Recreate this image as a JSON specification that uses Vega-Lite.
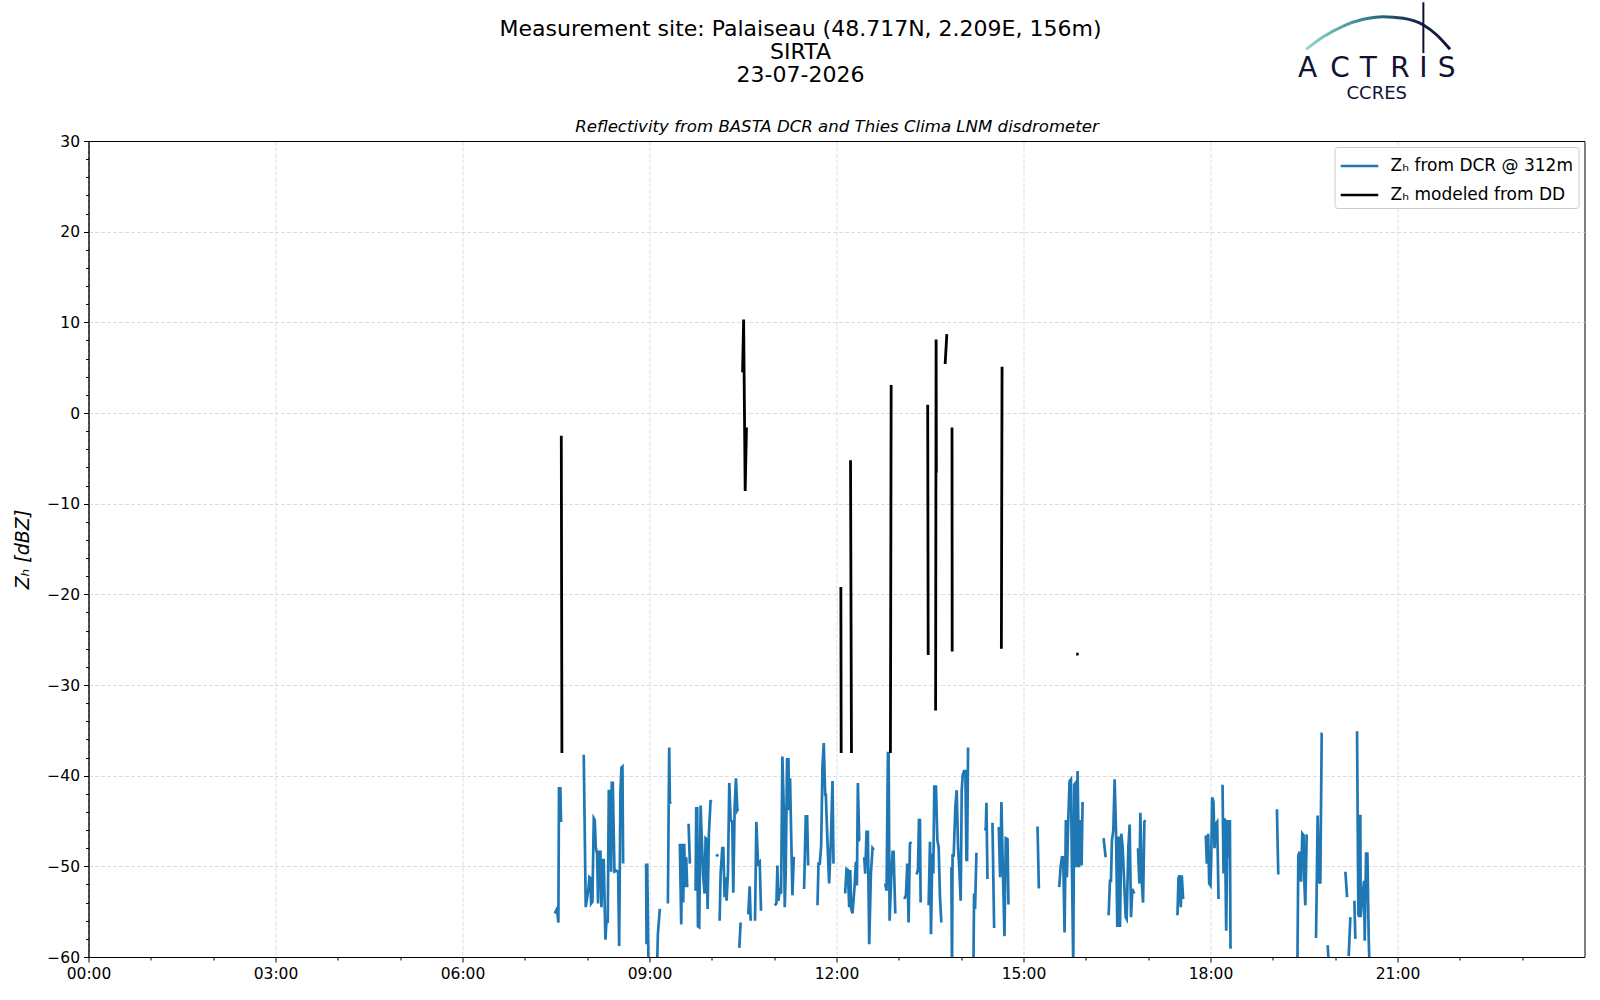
{
  "$schema": "https://vega.github.io/schema/vega-lite/v6.json",
  "width": 1496,
  "height": 816,
  "autosize": {"type": "none"},
  "padding": {"left": 88.5, "top": 141, "right": 15.5, "bottom": 43},
  "background": "white",
  "title": {
    "text": ["Measurement site: Palaiseau (48.717N, 2.209E, 156m)", "SIRTA", "23-07-2026"],
    "anchor": "middle",
    "frame": "group",
    "dx": -36,
    "offset": -88.5,
    "font": "DejaVu Sans",
    "fontSize": 22,
    "fontWeight": "normal",
    "lineHeight": 23,
    "color": "black"
  },
  "datasets": {
    "dcr": [
      {"t": 7.479, "z": -55.2}, {"t": 7.516, "z": -54.7}, {"t": 7.538, "z": -56.2}, {"t": 7.548, "z": -41.4},
      {"t": 7.57, "z": -41.4}, {"t": 7.581, "z": -45.1}, {"t": 7.59, "z": null},
      {"t": 7.945, "z": -37.7}, {"t": 7.977, "z": -54.5}, {"t": 8.02, "z": -52.5}, {"t": 8.036, "z": -51.2},
      {"t": 8.052, "z": -51.3}, {"t": 8.063, "z": -54.1}, {"t": 8.084, "z": -53.9}, {"t": 8.106, "z": -44.7},
      {"t": 8.122, "z": -44.9}, {"t": 8.138, "z": -47.9}, {"t": 8.159, "z": -48.6}, {"t": 8.175, "z": -54.1},
      {"t": 8.191, "z": -48.4}, {"t": 8.213, "z": -48.4}, {"t": 8.229, "z": -54.5}, {"t": 8.25, "z": -49.3},
      {"t": 8.266, "z": -49.3}, {"t": 8.293, "z": -58.1}, {"t": 8.309, "z": -56.1}, {"t": 8.33, "z": -56.1},
      {"t": 8.347, "z": -41.7}, {"t": 8.373, "z": -41.7}, {"t": 8.384, "z": -50.6}, {"t": 8.395, "z": -40.8},
      {"t": 8.411, "z": -40.8}, {"t": 8.438, "z": -50.6}, {"t": 8.47, "z": -50.5}, {"t": 8.497, "z": -50.6},
      {"t": 8.513, "z": -58.8}, {"t": 8.534, "z": -41.7}, {"t": 8.55, "z": -39.1}, {"t": 8.566, "z": -39.0},
      {"t": 8.577, "z": -49.7}, {"t": 8.6, "z": null},
      {"t": 8.946, "z": -49.7}, {"t": 8.952, "z": -58.6}, {"t": 8.963, "z": -49.7}, {"t": 8.984, "z": -61.2},
      {"t": 9.0, "z": null},
      {"t": 9.123, "z": -60.8}, {"t": 9.134, "z": -57.5}, {"t": 9.166, "z": -54.7}, {"t": 9.18, "z": null},
      {"t": 9.295, "z": -54.1}, {"t": 9.316, "z": -36.9}, {"t": 9.327, "z": -43.0}, {"t": 9.348, "z": -42.9},
      {"t": 9.36, "z": null},
      {"t": 9.487, "z": -47.5}, {"t": 9.509, "z": -56.4}, {"t": 9.525, "z": -47.5}, {"t": 9.541, "z": -54.0},
      {"t": 9.557, "z": -47.5}, {"t": 9.573, "z": -52.3}, {"t": 9.589, "z": -49.0}, {"t": 9.605, "z": -52.3},
      {"t": 9.615, "z": null},
      {"t": 9.627, "z": -45.3}, {"t": 9.648, "z": -49.7}, {"t": 9.66, "z": null},
      {"t": 9.739, "z": -52.7}, {"t": 9.75, "z": -43.6}, {"t": 9.766, "z": -43.6}, {"t": 9.777, "z": -56.6},
      {"t": 9.798, "z": -56.7}, {"t": 9.82, "z": -43.3}, {"t": 9.83, "z": -45.3}, {"t": 9.862, "z": -51.2},
      {"t": 9.884, "z": -53.0}, {"t": 9.9, "z": -46.9}, {"t": 9.916, "z": -47.0}, {"t": 9.932, "z": -54.7},
      {"t": 9.953, "z": -46.4}, {"t": 9.98, "z": -42.7}, {"t": 9.991, "z": -42.9}, {"t": 10.0, "z": null},
      {"t": 10.071, "z": -48.7}, {"t": 10.103, "z": -48.9}, {"t": 10.11, "z": null},
      {"t": 10.125, "z": -56.0}, {"t": 10.141, "z": -50.8}, {"t": 10.168, "z": -48.0}, {"t": 10.184, "z": -48.0},
      {"t": 10.205, "z": -53.4}, {"t": 10.221, "z": -51.2}, {"t": 10.237, "z": -53.8}, {"t": 10.259, "z": -50.6},
      {"t": 10.28, "z": -40.8}, {"t": 10.302, "z": -44.9}, {"t": 10.328, "z": -45.1}, {"t": 10.344, "z": -52.9},
      {"t": 10.366, "z": -43.4}, {"t": 10.387, "z": -40.3}, {"t": 10.409, "z": -43.8}, {"t": 10.425, "z": -43.6},
      {"t": 10.433, "z": null},
      {"t": 10.441, "z": -59.0}, {"t": 10.462, "z": -56.2}, {"t": 10.47, "z": null},
      {"t": 10.585, "z": -55.3}, {"t": 10.607, "z": -52.2}, {"t": 10.623, "z": -56.0}, {"t": 10.65, "z": null},
      {"t": 10.693, "z": -56.0}, {"t": 10.714, "z": -45.1}, {"t": 10.741, "z": -49.7}, {"t": 10.768, "z": -49.5},
      {"t": 10.789, "z": -54.9}, {"t": 10.8, "z": null},
      {"t": 11.009, "z": -54.3}, {"t": 11.036, "z": -54.1}, {"t": 11.052, "z": -49.9}, {"t": 11.068, "z": -53.8},
      {"t": 11.089, "z": -52.7}, {"t": 11.111, "z": -53.0}, {"t": 11.132, "z": -37.9}, {"t": 11.154, "z": -43.6},
      {"t": 11.17, "z": -54.5}, {"t": 11.186, "z": -50.4}, {"t": 11.207, "z": -38.2}, {"t": 11.229, "z": -38.2},
      {"t": 11.239, "z": -43.8}, {"t": 11.255, "z": -40.3}, {"t": 11.272, "z": -46.2}, {"t": 11.293, "z": -53.2},
      {"t": 11.314, "z": -49.1}, {"t": 11.336, "z": -49.1}, {"t": 11.35, "z": null},
      {"t": 11.48, "z": -52.5}, {"t": 11.507, "z": -44.5}, {"t": 11.529, "z": -44.5}, {"t": 11.545, "z": -49.9},
      {"t": 11.56, "z": null},
      {"t": 11.695, "z": -54.3}, {"t": 11.711, "z": -49.7}, {"t": 11.732, "z": -49.7}, {"t": 11.754, "z": -47.7},
      {"t": 11.775, "z": -39.0}, {"t": 11.796, "z": -36.4}, {"t": 11.818, "z": -42.1}, {"t": 11.829, "z": -42.1},
      {"t": 11.855, "z": -47.3}, {"t": 11.882, "z": -51.9}, {"t": 11.909, "z": -47.3}, {"t": 11.936, "z": -40.6},
      {"t": 11.952, "z": -49.7}, {"t": 11.96, "z": null},
      {"t": 12.139, "z": -53.0}, {"t": 12.161, "z": -50.3}, {"t": 12.182, "z": -50.4}, {"t": 12.204, "z": -54.5},
      {"t": 12.22, "z": -50.4}, {"t": 12.236, "z": -54.7}, {"t": 12.257, "z": -55.2}, {"t": 12.289, "z": -52.3},
      {"t": 12.311, "z": -49.5}, {"t": 12.327, "z": -52.1}, {"t": 12.343, "z": -40.8}, {"t": 12.364, "z": -47.1},
      {"t": 12.38, "z": -47.1}, {"t": 12.39, "z": null},
      {"t": 12.445, "z": -49.0}, {"t": 12.461, "z": -50.8}, {"t": 12.482, "z": -46.2}, {"t": 12.503, "z": -46.2},
      {"t": 12.525, "z": -58.6}, {"t": 12.552, "z": -50.8}, {"t": 12.578, "z": -48.0}, {"t": 12.6, "z": -48.2},
      {"t": 12.61, "z": null},
      {"t": 12.782, "z": -51.9}, {"t": 12.803, "z": -52.7}, {"t": 12.825, "z": -37.5}, {"t": 12.836, "z": -37.5},
      {"t": 12.852, "z": -56.0}, {"t": 12.878, "z": -51.2}, {"t": 12.9, "z": -48.4}, {"t": 12.916, "z": -48.4},
      {"t": 12.943, "z": -55.2}, {"t": 12.95, "z": null},
      {"t": 13.087, "z": -53.6}, {"t": 13.114, "z": -53.2}, {"t": 13.136, "z": -49.7}, {"t": 13.157, "z": -56.2},
      {"t": 13.178, "z": -47.5}, {"t": 13.2, "z": -47.3}, {"t": 13.21, "z": null},
      {"t": 13.285, "z": -50.9}, {"t": 13.307, "z": -50.4}, {"t": 13.323, "z": -44.9}, {"t": 13.339, "z": -44.9},
      {"t": 13.35, "z": -54.0}, {"t": 13.36, "z": null},
      {"t": 13.478, "z": -54.3}, {"t": 13.5, "z": -47.3}, {"t": 13.516, "z": -57.5}, {"t": 13.537, "z": -48.6},
      {"t": 13.553, "z": -50.8}, {"t": 13.569, "z": -41.2}, {"t": 13.596, "z": -41.2}, {"t": 13.618, "z": -47.1},
      {"t": 13.639, "z": -47.9}, {"t": 13.66, "z": -53.4}, {"t": 13.682, "z": -56.2}, {"t": 13.69, "z": null},
      {"t": 13.843, "z": -50.1}, {"t": 13.853, "z": -62}, {"t": 13.862, "z": -48.8}, {"t": 13.88, "z": -48.8},
      {"t": 13.907, "z": -43.4}, {"t": 13.928, "z": -41.6}, {"t": 13.95, "z": -47.9}, {"t": 13.971, "z": -50.4},
      {"t": 13.992, "z": -53.8}, {"t": 14.009, "z": -41.6}, {"t": 14.025, "z": -39.9}, {"t": 14.046, "z": -39.5},
      {"t": 14.067, "z": -39.5}, {"t": 14.085, "z": -49.3}, {"t": 14.095, "z": -49.3}, {"t": 14.111, "z": -36.9},
      {"t": 14.12, "z": null},
      {"t": 14.197, "z": -61}, {"t": 14.207, "z": -53.0}, {"t": 14.223, "z": -54.7}, {"t": 14.245, "z": -48.5},
      {"t": 14.26, "z": null},
      {"t": 14.368, "z": -45.9}, {"t": 14.395, "z": -45.9}, {"t": 14.405, "z": -43.0}, {"t": 14.422, "z": -51.4},
      {"t": 14.43, "z": null},
      {"t": 14.502, "z": -45.2}, {"t": 14.529, "z": -56.8}, {"t": 14.54, "z": null},
      {"t": 14.582, "z": -45.8}, {"t": 14.604, "z": -45.8}, {"t": 14.625, "z": -51.2}, {"t": 14.646, "z": -42.9},
      {"t": 14.668, "z": -50.1}, {"t": 14.695, "z": -57.7}, {"t": 14.716, "z": -46.9}, {"t": 14.743, "z": -47.0},
      {"t": 14.759, "z": -54.2}, {"t": 14.77, "z": null},
      {"t": 15.225, "z": -45.6}, {"t": 15.246, "z": -52.3}, {"t": 15.268, "z": -52.3}, {"t": 15.28, "z": null},
      {"t": 15.573, "z": -52.3}, {"t": 15.595, "z": -50.1}, {"t": 15.616, "z": -49.0}, {"t": 15.637, "z": -49.0},
      {"t": 15.659, "z": -57.3}, {"t": 15.68, "z": -44.9}, {"t": 15.696, "z": -51.2}, {"t": 15.718, "z": -44.9},
      {"t": 15.739, "z": -40.6}, {"t": 15.761, "z": -40.4}, {"t": 15.777, "z": -50.1}, {"t": 15.798, "z": -61},
      {"t": 15.814, "z": -41.0}, {"t": 15.836, "z": -40.8}, {"t": 15.846, "z": -50.1}, {"t": 15.868, "z": -39.5},
      {"t": 15.889, "z": -50.1}, {"t": 15.911, "z": -44.9}, {"t": 15.932, "z": -49.9}, {"t": 15.948, "z": -42.9},
      {"t": 15.96, "z": null},
      {"t": 16.285, "z": -46.9}, {"t": 16.318, "z": -49.0}, {"t": 16.33, "z": null},
      {"t": 16.366, "z": -55.4}, {"t": 16.387, "z": -51.6}, {"t": 16.403, "z": -51.6}, {"t": 16.419, "z": -47.1},
      {"t": 16.441, "z": -46.0}, {"t": 16.462, "z": -40.4}, {"t": 16.484, "z": -46.0}, {"t": 16.505, "z": -56.7},
      {"t": 16.527, "z": -46.7}, {"t": 16.548, "z": -56.7}, {"t": 16.569, "z": -46.4}, {"t": 16.591, "z": -47.9},
      {"t": 16.612, "z": -51.2}, {"t": 16.639, "z": -55.6}, {"t": 16.655, "z": -55.8}, {"t": 16.682, "z": -47.9},
      {"t": 16.703, "z": -45.4}, {"t": 16.725, "z": -55.6}, {"t": 16.746, "z": -52.5}, {"t": 16.778, "z": -53.0},
      {"t": 16.8, "z": null},
      {"t": 16.837, "z": -48.0}, {"t": 16.859, "z": -51.9}, {"t": 16.875, "z": -44.1}, {"t": 16.896, "z": -51.6},
      {"t": 16.918, "z": -54.0}, {"t": 16.939, "z": -45.1}, {"t": 16.955, "z": -44.9}, {"t": 16.97, "z": null},
      {"t": 17.47, "z": -55.4}, {"t": 17.486, "z": -51.3}, {"t": 17.507, "z": -51.0}, {"t": 17.523, "z": -54.5},
      {"t": 17.539, "z": -51.0}, {"t": 17.561, "z": -53.6}, {"t": 17.57, "z": null},
      {"t": 17.925, "z": -46.6}, {"t": 17.941, "z": -49.7}, {"t": 17.963, "z": -46.4}, {"t": 17.979, "z": -51.9},
      {"t": 18.0, "z": -52.1}, {"t": 18.011, "z": -49.3}, {"t": 18.027, "z": -42.4}, {"t": 18.048, "z": -42.9},
      {"t": 18.064, "z": -48.0}, {"t": 18.086, "z": -45.3}, {"t": 18.107, "z": -45.1}, {"t": 18.129, "z": -53.6},
      {"t": 18.14, "z": null},
      {"t": 18.193, "z": -41.0}, {"t": 18.209, "z": -50.8}, {"t": 18.23, "z": -44.7}, {"t": 18.252, "z": -57.1},
      {"t": 18.273, "z": -44.9}, {"t": 18.289, "z": -49.0}, {"t": 18.311, "z": -44.9}, {"t": 18.321, "z": -59.1},
      {"t": 18.33, "z": null},
      {"t": 19.066, "z": -43.7}, {"t": 19.087, "z": -50.9}, {"t": 19.1, "z": null},
      {"t": 19.393, "z": -62}, {"t": 19.409, "z": -48.8}, {"t": 19.43, "z": -48.4}, {"t": 19.452, "z": -51.7},
      {"t": 19.473, "z": -46.4}, {"t": 19.494, "z": -46.6}, {"t": 19.505, "z": -51.7}, {"t": 19.521, "z": -54.3},
      {"t": 19.543, "z": -46.6}, {"t": 19.559, "z": -46.6}, {"t": 19.57, "z": null},
      {"t": 19.693, "z": -57.9}, {"t": 19.719, "z": -44.4}, {"t": 19.741, "z": -51.6}, {"t": 19.762, "z": -51.9},
      {"t": 19.784, "z": -35.4}, {"t": 19.8, "z": -35.4}, {"t": 19.81, "z": null},
      {"t": 19.88, "z": -58.7}, {"t": 19.907, "z": -62}, {"t": 19.92, "z": null},
      {"t": 20.164, "z": -50.6}, {"t": 20.191, "z": -53.4}, {"t": 20.2, "z": null},
      {"t": 20.217, "z": -59.9}, {"t": 20.244, "z": -55.6}, {"t": 20.25, "z": null},
      {"t": 20.308, "z": -53.8}, {"t": 20.324, "z": -58.0}, {"t": 20.33, "z": null},
      {"t": 20.351, "z": -35.1}, {"t": 20.372, "z": -55.3}, {"t": 20.388, "z": -55.6}, {"t": 20.404, "z": -44.3},
      {"t": 20.409, "z": -55.6}, {"t": 20.463, "z": -51.6}, {"t": 20.474, "z": -58.2}, {"t": 20.496, "z": -48.6},
      {"t": 20.517, "z": -48.6}, {"t": 20.539, "z": -58.2}, {"t": 20.555, "z": -62}
    ],
    "dd": [
      {"t": 7.585, "z": -2.5}, {"t": 7.595, "z": -37.5}, {"t": 7.6, "z": null},
      {"t": 10.493, "z": 4.5}, {"t": 10.51, "z": 10.3}, {"t": 10.535, "z": -8.6}, {"t": 10.556, "z": -1.6},
      {"t": 10.57, "z": null},
      {"t": 12.07, "z": -19.2}, {"t": 12.075, "z": -37.5}, {"t": 12.08, "z": null},
      {"t": 12.225, "z": -5.2}, {"t": 12.24, "z": -37.5}, {"t": 12.25, "z": null},
      {"t": 12.865, "z": -37.5}, {"t": 12.877, "z": 3.1}, {"t": 12.89, "z": null},
      {"t": 13.463, "z": 0.9}, {"t": 13.471, "z": -26.7}, {"t": 13.48, "z": null},
      {"t": 13.59, "z": -32.8}, {"t": 13.598, "z": 8.1}, {"t": 13.602, "z": -6.6}, {"t": 13.61, "z": null},
      {"t": 13.743, "z": 5.4}, {"t": 13.77, "z": 8.7}, {"t": 13.78, "z": null},
      {"t": 13.853, "z": -1.6}, {"t": 13.856, "z": -26.3}, {"t": 13.86, "z": null},
      {"t": 14.645, "z": -26.0}, {"t": 14.656, "z": 5.1}, {"t": 14.66, "z": null},
      {"t": 15.845, "z": -26.6}, {"t": 15.885, "z": -26.6}
    ],
    "arc": [
      {"t": 19.533, "v": 40.11}, {"t": 19.81, "v": 41.5}, {"t": 20.13, "v": 42.68}, {"t": 20.45, "v": 43.42},
      {"t": 20.77, "v": 43.71}, {"t": 21.094, "v": 43.53}, {"t": 21.415, "v": 42.79}, {"t": 21.63, "v": 41.69},
      {"t": 21.843, "v": 40.11}
    ],
    "mast": [
      {"t": 21.415, "v": 45.3}, {"t": 21.415, "v": 39.7}
    ],
    "letters": [
      {"c": "A", "t": 19.556, "v": 37.06}, {"c": "C", "t": 20.08, "v": 37.06}, {"c": "T", "t": 20.533, "v": 37.06},
      {"c": "R", "t": 21.04, "v": 37.06}, {"c": "I", "t": 21.414, "v": 37.06}, {"c": "S", "t": 21.79, "v": 37.06}
    ],
    "sub": [
      {"c": "CCRES", "t": 20.667, "v": 34.63}
    ]
  },
  "layer": [
    {
      "data": {"name": "dcr"},
      "mark": {"type": "line", "strokeWidth": 2.7, "clip": true, "invalid": "break-paths-show-domains"},
      "encoding": {
        "x": {
          "field": "t",
          "type": "quantitative",
          "scale": {"domain": [0, 24], "nice": false, "zero": false},
          "axis": {
            "orient": "bottom",
            "title": null,
            "values": [0, 3, 6, 9, 12, 15, 18, 21],
            "labelExpr": "(datum.value < 10 ? '0' : '') + datum.value + ':00'",
            "labelFlush": false,
            "labelFontSize": 15.5,
            "labelPadding": 4,
            "tickSize": 5,
            "grid": true
          }
        },
        "y": {
          "field": "z",
          "type": "quantitative",
          "scale": {"domain": [-60, 30], "nice": false, "zero": false},
          "axis": {
            "orient": "left",
            "title": "Zₕ [dBZ]",
            "titleFontStyle": "italic",
            "titleFontSize": 19,
            "titleFontWeight": "normal",
            "titleX": -66,
            "titleY": 408,
            "titleAngle": -90,
            "titleAlign": "center",
            "titleBaseline": "middle",
            "values": [-60, -50, -40, -30, -20, -10, 0, 10, 20, 30],
            "labelExpr": "replace(format(datum.value, 'd'), '-', '\u2212')",
            "labelFlush": false,
            "labelFontSize": 15.5,
            "labelPadding": 4,
            "tickSize": 5,
            "grid": true
          }
        },
        "color": {
          "datum": "DCR",
          "type": "nominal",
          "scale": {"domain": ["DCR", "DD"], "range": ["#1f77b4", "#000000"]},
          "legend": {
            "title": null,
            "orient": "top-right",
            "offset": 6,
            "labelExpr": "datum.label == 'DCR' ? 'Zₕ from DCR @ 312m' : 'Zₕ modeled from DD'",
            "labelLimit": 400,
            "symbolType": "M-1.5,0H1.5",
            "symbolSize": 625,
            "symbolStrokeWidth": 2.5,
            "symbolOffset": 6,
            "labelOffset": 17,
            "labelFontSize": 17,
            "labelColor": "black",
            "padding": 5,
            "rowPadding": 7,
            "strokeColor": "#cccccc",
            "fillColor": "rgba(255,255,255,0.8)",
            "cornerRadius": 3
          }
        }
      }
    },
    {
      "data": {"name": "dd"},
      "mark": {"type": "line", "strokeWidth": 2.8, "clip": true, "invalid": "break-paths-show-domains"},
      "encoding": {
        "x": {
          "field": "t",
          "type": "quantitative",
          "scale": {"domain": [0, 24], "nice": false, "zero": false},
          "axis": {
            "orient": "bottom",
            "title": null,
            "values": [1, 2, 4, 5, 7, 8, 10, 11, 13, 14, 16, 17, 19, 20, 22, 23],
            "labels": false,
            "domain": false,
            "grid": false,
            "tickSize": 3
          }
        },
        "y": {
          "field": "z",
          "type": "quantitative",
          "scale": {"domain": [-60, 30], "nice": false, "zero": false},
          "axis": {
            "orient": "left",
            "title": null,
            "values": [-58, -56, -54, -52, -48, -46, -44, -42, -38, -36, -34, -32, -28, -26, -24, -22, -18, -16, -14, -12, -8, -6, -4, -2, 2, 4, 6, 8, 12, 14, 16, 18, 22, 24, 26, 28],
            "labels": false,
            "domain": false,
            "grid": false,
            "tickSize": 3
          }
        },
        "color": {"datum": "DD", "type": "nominal"}
      }
    },
    {
      "data": {"name": "arc"},
      "mark": {
        "type": "line",
        "clip": false,
        "strokeWidth": 3,
        "interpolate": "monotone",
        "stroke": {
          "gradient": "linear",
          "stops": [
            {"offset": 0, "color": "#9ad6d0"},
            {"offset": 0.45, "color": "#2b7a8c"},
            {"offset": 0.75, "color": "#16294f"},
            {"offset": 1, "color": "#0d1233"}
          ]
        }
      },
      "encoding": {
        "x": {
          "field": "t",
          "type": "quantitative",
          "scale": {"domain": [0, 24], "nice": false, "zero": false},
          "axis": {
            "orient": "top",
            "title": "Reflectivity from BASTA DCR and Thies Clima LNM disdrometer",
            "titleFontStyle": "italic",
            "titleFontSize": 16.6,
            "titleFontWeight": "normal",
            "titlePadding": 7,
            "labels": false,
            "ticks": false,
            "domain": true,
            "domainColor": "black",
            "grid": false,
            "zindex": 1
          }
        },
        "y": {
          "field": "v",
          "type": "quantitative",
          "scale": {"domain": [-60, 30], "nice": false, "zero": false},
          "axis": null
        }
      }
    },
    {
      "data": {"name": "mast"},
      "mark": {"type": "line", "clip": false, "strokeWidth": 2, "color": "#0d1233"},
      "encoding": {
        "x": {"field": "t", "type": "quantitative", "scale": {"domain": [0, 24], "nice": false, "zero": false}, "axis": null},
        "y": {"field": "v", "type": "quantitative", "scale": {"domain": [-60, 30], "nice": false, "zero": false}, "axis": null}
      }
    },
    {
      "data": {"name": "letters"},
      "mark": {"type": "text", "clip": false, "fontSize": 28, "align": "center", "baseline": "alphabetic", "color": "#0f1236", "font": "DejaVu Sans"},
      "encoding": {
        "x": {"field": "t", "type": "quantitative", "scale": {"domain": [0, 24], "nice": false, "zero": false}, "axis": null},
        "y": {"field": "v", "type": "quantitative", "scale": {"domain": [-60, 30], "nice": false, "zero": false}, "axis": null},
        "text": {"field": "c"}
      }
    },
    {
      "data": {"name": "sub"},
      "mark": {"type": "text", "clip": false, "fontSize": 18, "align": "center", "baseline": "alphabetic", "color": "#0f1236", "font": "DejaVu Sans"},
      "encoding": {
        "x": {"field": "t", "type": "quantitative", "scale": {"domain": [0, 24], "nice": false, "zero": false}, "axis": null},
        "y": {"field": "v", "type": "quantitative", "scale": {"domain": [-60, 30], "nice": false, "zero": false}, "axis": null},
        "text": {"field": "c"}
      }
    }
  ],
  "resolve": {"axis": {"x": "independent", "y": "independent"}},
  "config": {
    "font": "DejaVu Sans",
    "view": {"stroke": "black", "strokeWidth": 1},
    "axis": {
      "labelFont": "DejaVu Sans",
      "titleFont": "DejaVu Sans",
      "labelColor": "black",
      "titleColor": "black",
      "domainColor": "black",
      "tickColor": "black",
      "domainWidth": 1,
      "tickWidth": 1,
      "gridColor": "#d4d4d4",
      "gridDash": [4, 2],
      "gridWidth": 0.8
    },
    "legend": {"labelFont": "DejaVu Sans"}
  }
}
